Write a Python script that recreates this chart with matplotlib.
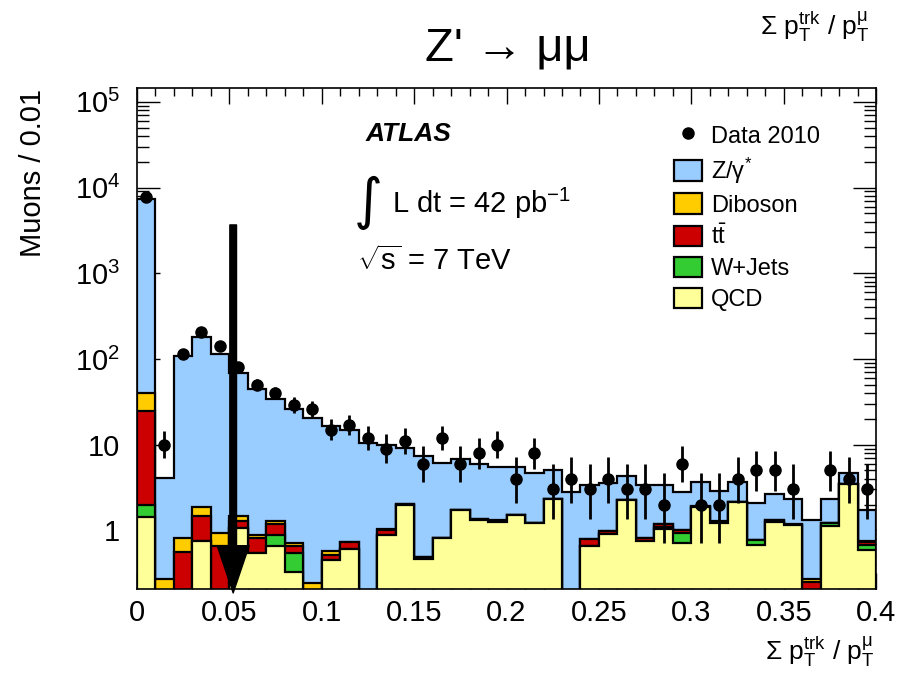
import numpy as np
import matplotlib
matplotlib.use("Agg")
import matplotlib.pyplot as plt
from matplotlib.patches import Patch
from matplotlib.lines import Line2D
from matplotlib.ticker import FixedLocator, LogLocator, NullFormatter, FuncFormatter

plt.rcParams.update({
    "font.family": ["Liberation Sans", "DejaVu Sans"],
    "mathtext.fontset": "custom",
    "mathtext.rm": "Liberation Sans",
    "mathtext.it": "Liberation Sans:italic",
    "mathtext.bf": "Liberation Sans:bold",
})

# 40 bins of 0.01 in sum(pT trk) / pT(mu)
EDGES = np.round(np.arange(0, 0.4001, 0.01), 3)

QCD = [1.44, 0, 0, 0.76, 0, 1.06, 0.54, 0.66, 0.33, 0, 0.45, 0.61, 0, 0.88, 2.0,
       0.46, 0.81, 1.71, 1.32, 1.26, 1.51, 1.21, 2.3, 0, 0.66, 0.91, 2.26, 0.75,
       1.03, 0.71, 1.89, 1.21, 2.12, 0.68, 1.24, 1.16, 0, 1.12, 3.47, 0.59]
WJETS = [0.52, 0, 0, 0, 0, 0, 0, 0.23, 0.22, 0, 0, 0, 0, 0, 0, 0, 0, 0, 0, 0,
         0, 0, 0, 0, 0, 0, 0, 0, 0.07, 0.22, 0, 0, 0, 0.09, 0, 0, 0, 0.09, 0, 0.09]
TTBAR = [22.8, 0, 0.56, 0.72, 0.66, 0.24, 0.27, 0.30, 0.10, 0, 0.06, 0.12, 0, 0.14,
         0.03, 0.03, 0, 0, 0.03, 0.04, 0, 0, 0, 0, 0.13, 0.07, 0, 0.06, 0.09, 0.08,
         0, 0.05, 0, 0, 0.08, 0, 0.25, 0, 0, 0.06]
DIBOSON = [15.5, 0.27, 0.26, 0.38, 0.27, 0.15, 0.06, 0.08, 0.07, 0.24, 0.06, 0.01,
           0, 0.02, 0.02, 0, 0.01, 0.01, 0.01, 0.01, 0.01, 0.01, 0.01, 0, 0.01,
           0.01, 0.01, 0.01, 0.01, 0.01, 0.01, 0.01, 0.01, 0.01, 0.01, 0.01, 0.02,
           0.01, 0.01, 0.01]
ZGAMMA = [7360, 3.83, 107.9, 177.6, 113, 67.5, 43.1, 32.7, 25.3, 20.4, 15.9, 14.0,
          10.4, 8.8, 7.0, 6.9, 5.2, 5.1, 4.5, 4.1, 4.0, 3.4, 2.75, 2.78, 2.56, 2.55,
          2.07, 2.56, 2.18, 1.76, 1.74, 1.61, 1.51, 1.29, 1.33, 1.15, 1.05, 1.10,
          1.15, 0.96]
DATA = [7800, 10, 115, 204, 142, 80, 50, 40, 29, 26, 15, 17, 12, 9, 11, 6, 12, 6,
        8, 10, 4, 8, 3, 4, 3, 4, 3, 3, 2, 6, 2, 2, 4, 5, 5, 3, 0, 5, 4, 3]

SAMPLES = ["QCD", "W+Jets", "t$\\bar{\\mathrm{t}}$", "Diboson", "Z/γ$^{*}$"]
COLORS = ["#FFFF99", "#33CC33", "#CC0000", "#FFCC00", "#99CCFF"]
CUT = 0.0522

YMIN, YMAX = 0.207, 1.44e5
XTITLE = "Σ p$_{\\mathrm{T}}^{\\mathrm{trk}}$ / p$_{\\mathrm{T}}^{\\mathrm{μ}}$"

fig = plt.figure(figsize=(9.11, 6.84), dpi=100)
ax = fig.add_axes([0.150, 0.139, 0.812, 0.732])

# stacked histograms, drawn as cumulative sums from the top down
stack = np.cumsum(np.array([QCD, WJETS, TTBAR, DIBOSON, ZGAMMA]), axis=0)
for level in range(len(SAMPLES) - 1, -1, -1):
    vals = np.maximum(stack[level], 1e-3)
    ax.stairs(vals, EDGES, baseline=1e-3, fill=True, facecolor=COLORS[level],
              edgecolor="black", linewidth=1.6, zorder=2 + (4 - level) * 0.01)

# data with approximate Poisson (Gehrels) 1-sigma intervals
data = np.array(DATA, dtype=float)
centers = 0.5 * (EDGES[:-1] + EDGES[1:])
has = data > 0
n = data[has]
up = np.sqrt(n + 0.75) + 1
lo = n - n * (1 - 1 / (9 * n) - 1 / (3 * np.sqrt(n))) ** 3
ax.errorbar(centers[has], n, yerr=[lo, up], fmt="o", color="black", ms=8,
            elinewidth=2.0, capsize=0, zorder=5)

# cut position
ax.annotate("", xy=(CUT, -0.008), xycoords=("data", "axes fraction"),
            xytext=(CUT, 0.727), textcoords=("data", "axes fraction"),
            arrowprops=dict(facecolor="black", edgecolor="black", width=4.8,
                            headwidth=23, headlength=34, shrink=0),
            annotation_clip=False, zorder=6)

ax.set_xlim(0, 0.4)
ax.set_yscale("log")
ax.set_ylim(YMIN, YMAX)

ax.xaxis.set_major_locator(FixedLocator(np.round(np.arange(0, 0.41, 0.05), 2)))
ax.xaxis.set_minor_locator(FixedLocator(EDGES))
ax.xaxis.set_major_formatter(FuncFormatter(lambda v, p: f"{v:g}"))


def log_label(v, pos):
    e = int(round(np.log10(v)))
    if e == 0:
        return "1"
    if e == 1:
        return "10"
    return f"10$^{{{e}}}$"


ax.yaxis.set_major_locator(FixedLocator([1, 10, 100, 1e3, 1e4, 1e5]))
ax.yaxis.set_major_formatter(FuncFormatter(log_label))
ax.yaxis.set_minor_locator(LogLocator(base=10, subs=np.arange(2, 10)))
ax.yaxis.set_minor_formatter(NullFormatter())

ax.tick_params(which="both", direction="in", top=True, right=True, width=1.0)
ax.tick_params(axis="x", which="major", length=11.5, labelsize=21, pad=7)
ax.tick_params(axis="x", which="minor", length=5.8)
ax.tick_params(axis="y", which="major", length=16.5, labelsize=21, pad=12)
ax.tick_params(axis="y", which="minor", length=8.6)
for s in ax.spines.values():
    s.set_linewidth(1.2)
    s.set_zorder(10)

# axis titles in figure coordinates
fig.text(0.960, 0.022, XTITLE, ha="right", va="bottom", fontsize=19)
fig.text(0.955, 0.935, XTITLE, ha="right", va="bottom", fontsize=19)
fig.text(0.036, 0.870, "Muons / 0.01", rotation=90, ha="center", va="top",
         fontsize=21)
fig.text(0.557, 0.929, "Z' → μμ", ha="center", va="center", fontsize=34)

# experiment labels
ax.text(0.309, 0.908, "ATLAS", transform=ax.transAxes, fontsize=19,
        fontweight="bold", fontstyle="italic", ha="left", va="center")
ax.text(0.313, 0.77, "∫", transform=ax.transAxes, fontsize=40, ha="center",
        va="center", family=["DejaVu Sans"])
ax.text(0.345, 0.77, "L dt = 42 pb$^{-1}$", transform=ax.transAxes, fontsize=21,
        ha="left", va="center")
ax.text(0.298, 0.655, "$\\sqrt{\\mathrm{s}}$ = 7 TeV", transform=ax.transAxes,
        fontsize=21, ha="left", va="center")

handles = [Line2D([], [], marker="o", color="black", ls="none", ms=8)]
labels = ["Data 2010"]
for i in range(len(SAMPLES) - 1, -1, -1):
    handles.append(Patch(facecolor=COLORS[i], edgecolor="black", linewidth=1.6))
    labels.append(SAMPLES[i])
leg = ax.legend(handles, labels, loc="upper left", bbox_to_anchor=(0.727, 0.928),
                frameon=False, borderpad=0, borderaxespad=0, fontsize=17,
                handlelength=1.15, handleheight=0.95, handletextpad=0.4,
                labelspacing=0.33)
leg.set_zorder(8)

fig.savefig("out.png", dpi=100, facecolor="white")
